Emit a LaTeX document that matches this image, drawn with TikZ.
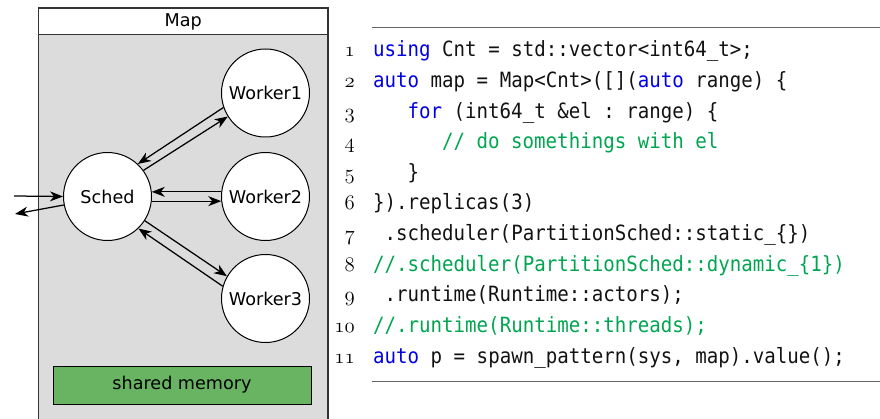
\documentclass[tikz,border=0pt]{standalone}
\usepackage{fontspec}
\setmainfont{DejaVu Sans}
\setmonofont[FakeStretch=0.91]{DejaVu Sans Mono}
\usetikzlibrary{arrows.meta}
\definecolor{kwblue}{RGB}{0,0,230}
\definecolor{cmgreen}{RGB}{0,165,80}
\definecolor{mapgray}{RGB}{220,220,220}
\definecolor{memgreen}{RGB}{104,180,98}
\definecolor{rulegray}{RGB}{100,100,100}
\newcommand{\kw}[1]{\textcolor{kwblue}{#1}}
\newcommand{\cm}[1]{\textcolor{cmgreen}{#1}}
\begin{document}
\begin{tikzpicture}[x=1pt,y=-1pt,
  proc/.style={circle,draw=black,fill=white,line width=1pt,minimum size=88pt,inner sep=0pt,font=\fontsize{17.6}{20}\selectfont},
  arr/.style={line width=1.25pt,-{Stealth[length=13pt,width=10pt,inset=4pt]}},
  codeline/.style={anchor=base west,inner sep=0pt,font=\fontsize{21}{25}\ttfamily,text=black!93},
  lineno/.style={anchor=base east,inner sep=0pt,font=\fontsize{20.74}{24}\usefont{OML}{cmm}{m}{it}},
  coderule/.style={draw=rulegray,line width=1.3pt}]
\useasboundingbox (0,0) rectangle (880,419);
% Map container
\fill[mapgray] (38.5,34.5) rectangle (328,419);
\fill[white] (38.5,8) rectangle (328,34.5);
\draw[black!80,line width=1.3pt] (38.5,419) -- (38.5,8) -- (328,8) -- (328,419);
\draw[black!80,line width=1.3pt] (38.5,34.5) -- (328,34.5);
\node[inner sep=0pt,font=\fontsize{17.6}{20}\selectfont] (map) at (183.3,21.5) {Map};
% processes
\node[proc] (S) at (107.5,196.5) {Sched};
\node[proc] (W1) at (265.5,93) {Worker1};
\node[proc] (W2) at (265.5,196.5) {Worker2};
\node[proc] (W3) at (265.5,298.5) {Worker3};
\node[draw=black,fill=memgreen,line width=1pt,minimum width=258pt,minimum height=38pt,inner sep=0pt,font=\fontsize{17.6}{20}\selectfont] (mem) at (182,385) {shared memory};
% connectors
\coordinate (inp) at (14,196);
\coordinate (outp) at (15,214);
\draw[arr] (inp) -- (S.180);
\draw[arr] (S.191) -- (outp);
\draw[arr] (W1.199) -- (S.47.5);
\draw[arr] (S.36) -- (W1.212);
\draw[arr] (W2.174) -- (S.6);
\draw[arr] (S.-6) -- (W2.186);
\draw[arr] (S.-33) -- (W3.150);
\draw[arr] (W3.164) -- (S.-46);
% code listing
\coordinate (rt1) at (372,27.3);
\coordinate (rt2) at (880,27.3);
\coordinate (rb1) at (372,381.7);
\coordinate (rb2) at (880,381.7);
\draw[coderule] (rt1) -- (rt2);
\draw[coderule] (rb1) -- (rb2);
\node[lineno] (n1) at (355,57.0) {1};
\node[lineno] (n2) at (355,87.6) {2};
\node[lineno] (n3) at (355,118.2) {3};
\node[lineno] (n4) at (355,148.8) {4};
\node[lineno] (n5) at (355,179.4) {5};
\node[lineno] (n6) at (355,210.0) {6};
\node[lineno] (n7) at (355,240.6) {7};
\node[lineno] (n8) at (355,271.2) {8};
\node[lineno] (n9) at (355,301.8) {9};
\node[lineno] (n10) at (355,332.4) {10};
\node[lineno] (n11) at (355,363.0) {11};
\node[codeline] (c1) at (373,57.0) {\kw{using} Cnt = std::vector<int64\_t>;};
\node[codeline] (c2) at (373,87.6) {\kw{auto} map = Map<Cnt>([](\kw{auto} range) \{};
\node[codeline] (c3) at (407.5,118.2) {\kw{for} (int64\_t \&el : range) \{};
\node[codeline] (c4) at (442,148.8) {\cm{// do somethings with el}};
\node[codeline] (c5) at (407.5,179.4) {\}};
\node[codeline] (c6) at (373,210.0) {\}).replicas(3)};
\node[codeline] (c7) at (384.5,240.6) {.scheduler(PartitionSched::static\_\{\})};
\node[codeline] (c8) at (373,271.2) {\cm{//.scheduler(PartitionSched::dynamic\_\{1\})}};
\node[codeline] (c9) at (384.5,301.8) {.runtime(Runtime::actors);};
\node[codeline] (c10) at (373,332.4) {\cm{//.runtime(Runtime::threads);}};
\node[codeline] (c11) at (373,363.0) {\kw{auto} p = spawn\_pattern(sys, map).value();};
\end{tikzpicture}
\end{document}
